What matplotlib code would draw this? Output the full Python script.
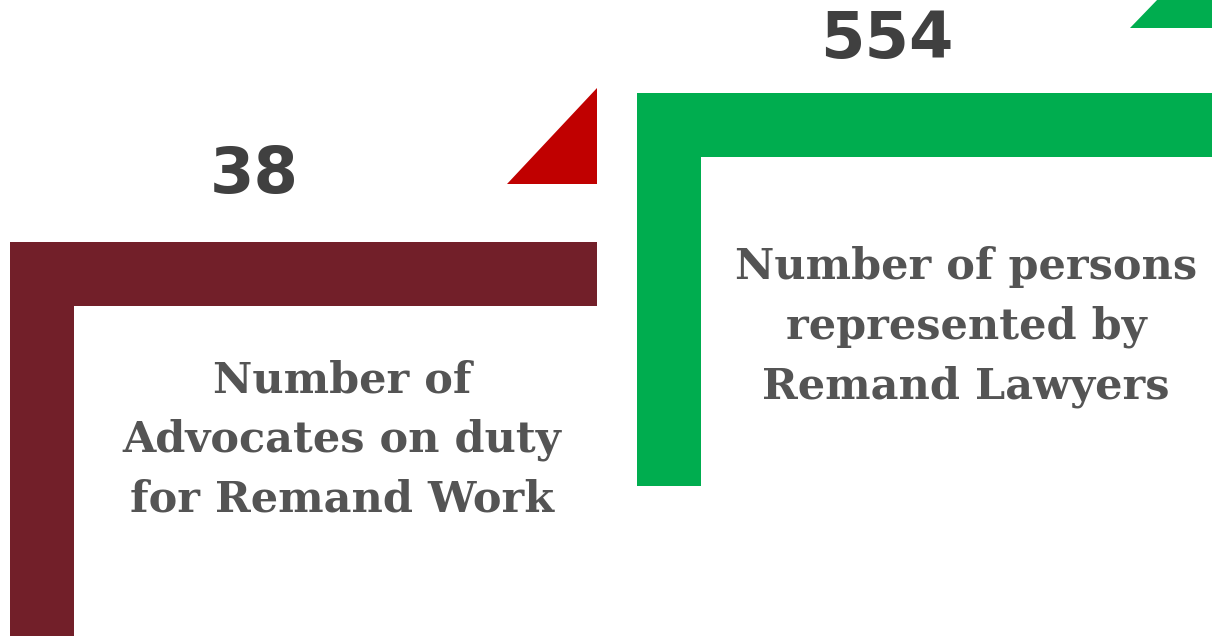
import matplotlib
matplotlib.use("Agg")
from matplotlib import pyplot as plt
from matplotlib.patches import Rectangle, Polygon

# data
values = [38, 554]
labels = ["Number of\nAdvocates on duty\nfor Remand Work",
          "Number of persons\nrepresented by\nRemand Lawyers"]
colors = ["#721f29", "#00ad4f"]
accent = ["#c00000", "#00ad4f"]

fig = plt.figure(figsize=(12.12, 6.36), dpi=100)
ax = fig.add_axes([0, 0, 1, 1])
ax.set_xlim(0, 1212)
ax.set_ylim(636, 0)
ax.axis('off')

# layout of each block: left x, top y of the L, right end, vertical bottom
blocks = [
    dict(x=10, y=242, right=597, bottom=640, num=(254, 175), lab=(342, 440),
         tri=[(507, 184), (597, 184), (597, 88)]),
    dict(x=637, y=93, right=1215, bottom=486, num=(887, 40), lab=(966, 327),
         tri=[(1130, 28), (1215, 28), (1215, -60)]),
]
bar = 64

for i, b in enumerate(blocks):
    # L shape
    ax.add_patch(Rectangle((b['x'], b['y']), b['right'] - b['x'], bar, color=colors[i], lw=0))
    ax.add_patch(Rectangle((b['x'], b['y']), bar, b['bottom'] - b['y'], color=colors[i], lw=0))
    ax.add_patch(Polygon(b['tri'], closed=True, color=accent[i], lw=0))
    ax.text(b['num'][0], b['num'][1], str(values[i]), ha='center', va='center',
            fontsize=46, fontweight='bold', family='DejaVu Sans', color='#404040')
    ax.text(b['lab'][0], b['lab'][1], labels[i], ha='center', va='center',
            fontsize=31, fontweight='bold', family='DejaVu Serif', color='#545454',
            linespacing=1.52)

plt.savefig('out.png', dpi=100)
